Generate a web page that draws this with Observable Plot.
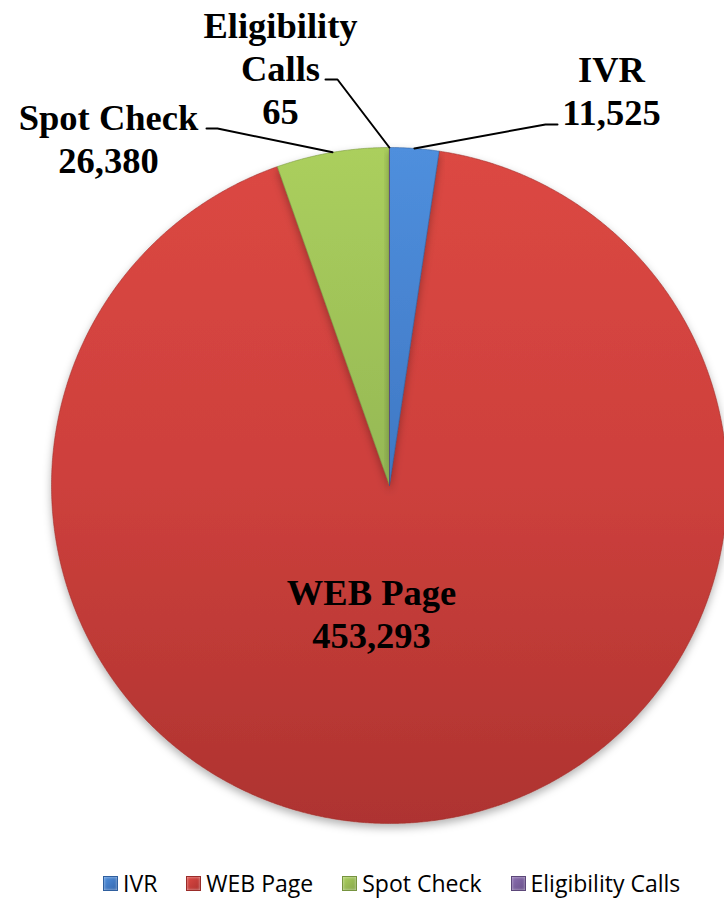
<!DOCTYPE html>
<html><head><meta charset="utf-8">
<script src="https://cdn.jsdelivr.net/npm/d3@7"></script>
<script src="https://cdn.jsdelivr.net/npm/@observablehq/plot@0.6"></script>
<style>
body{margin:0;background:#fff;}
#chart{width:724px;position:relative;}
#chart svg{display:block;overflow:visible;}
.legend{display:flex;align-items:center;height:36px;padding-left:103px;padding-top:6px;box-sizing:border-box;font-family:"Open Sans",sans-serif;font-size:23px;color:#000;white-space:nowrap;}
.legend .item{display:flex;align-items:center;margin-right:29px;}
.legend .sw{width:15px;height:15px;margin-right:5px;box-sizing:border-box;}
</style></head><body><div id="chart"></div>
<script>
// ---- data ----
const categories = ["IVR", "WEB Page", "Spot Check", "Eligibility Calls"];
const values = [11525, 453293, 26380, 65];
const labelNames = ["IVR", "WEB Page", "Spot Check", "Eligibility\nCalls"];

// ---- styles / layout ----
const gradTop = ["#4f8fdd", "#dc4843", "#abcf5d", "#8a6db0"];
const gradMid = ["#3f78c4", "#cd403c", "#95b855", "#7a5f9d"];
const gradBot = ["#3567ad", "#ae3330", "#86a64b", "#6a528a"];
const edge = ["#2f5f9e", "#9a2c29", "#76933f", "#5c4779"];
const W = 724, H = 862, cx = 389, cy = 485, r = 338;
const ux = px => (px - cx) / r, uy = py => (cy - py) / r;
// label block centers (pixels) and leader elbows (pixels)
const labelPos = [[611, 89], [371, 612], [108, 137], [280, 67]];
const leaderPts = [[[557, 124], [545, 124]], null, [[206, 128], [217, 128]], [[325, 79], [337, 79]]];

const arcs = d3.pie().sort(null).value(d => d)(values);

const slicePoints = arcs.map((a, i) => {
  const pts = [{x: 0, y: 0}];
  const n = Math.max(2, Math.ceil((a.endAngle - a.startAngle) / 0.005));
  for (let k = 0; k <= n; k++) {
    const t = a.startAngle + (a.endAngle - a.startAngle) * k / n;
    pts.push({x: Math.sin(t), y: Math.cos(t)});
  }
  pts.push({x: 0, y: 0});
  return pts;
});

const labels = categories.map((c, i) => ({
  x: ux(labelPos[i][0]), y: uy(labelPos[i][1]),
  text: labelNames[i] + "\n" + d3.format(",")(values[i])
}));

const leaders = [];
arcs.forEach((a, i) => {
  if (!leaderPts[i]) return;
  const m = (a.startAngle + a.endAngle) / 2;
  leaders.push({k: i, x: ux(leaderPts[i][0][0]), y: uy(leaderPts[i][0][1])});
  leaders.push({k: i, x: ux(leaderPts[i][1][0]), y: uy(leaderPts[i][1][1])});
  leaders.push({k: i, x: Math.sin(m), y: Math.cos(m)});
});

const sliceOrder = [1, 2, 0, 3];
const marks = sliceOrder.map(i => Plot.line(slicePoints[i], {
  x: "x", y: "y", fill: `url(#grad${i})`, stroke: edge[i], strokeWidth: 0.8, strokeOpacity: 0.7, curve: "linear"
}));
marks.push(Plot.line(leaders, {x: "x", y: "y", z: "k", stroke: "#000", strokeWidth: 2, curve: "linear"}));
marks.push(Plot.text(labels, {
  x: "x", y: "y", text: "text", fontFamily: "Liberation Serif", fontWeight: "bold",
  fontSize: 36.5, lineHeight: 1.17, fill: "#000", textAnchor: "middle", lineAnchor: "middle"
}));

const svg = Plot.plot({
  width: W, height: H, margin: 0,
  x: {domain: [-1, 1], range: [cx - r, cx + r], axis: null},
  y: {domain: [-1, 1], range: [cy + r, cy - r], axis: null},
  style: {background: "#fff", overflow: "visible"},
  marks
});

const ns = "http://www.w3.org/2000/svg";
const defs = document.createElementNS(ns, "defs");
let html = "";
categories.forEach((c, i) => {
  html += `<linearGradient id="grad${i}" gradientUnits="userSpaceOnUse" x1="0" y1="${cy - r}" x2="0" y2="${cy + r}">
    <stop offset="0" stop-color="${gradTop[i]}"/><stop offset="0.5" stop-color="${gradMid[i]}"/><stop offset="1" stop-color="${gradBot[i]}"/></linearGradient>`;
});
html += `<filter id="shadow" x="-10%" y="-10%" width="120%" height="125%"><feDropShadow dx="0" dy="4" stdDeviation="4" flood-color="#000" flood-opacity="0.3"/></filter>`;
defs.innerHTML = html;
svg.insertBefore(defs, svg.firstChild);
const lineGroups = svg.querySelectorAll('g[aria-label="line"]');
for (let j = 0; j < sliceOrder.length; j++) lineGroups[j].setAttribute("filter", "url(#shadow)");

document.getElementById("chart").appendChild(svg);

const legend = document.createElement("div");
legend.className = "legend";
categories.forEach((c, i) => {
  const it = document.createElement("div");
  it.className = "item";
  const sw = document.createElement("span");
  sw.className = "sw";
  sw.style.background = `linear-gradient(135deg, ${gradTop[i]}, ${gradBot[i]})`;
  sw.style.border = `1px solid ${edge[i]}`;
  sw.style.boxShadow = `inset 0 0 3px rgba(255,255,255,0.6)`;
  const tx = document.createElement("span");
  tx.textContent = c;
  it.appendChild(sw); it.appendChild(tx);
  legend.appendChild(it);
});
document.getElementById("chart").appendChild(legend);
</script>
</body></html>
